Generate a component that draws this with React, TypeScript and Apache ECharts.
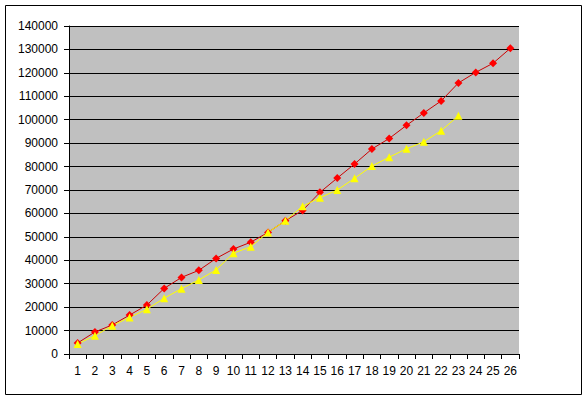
import React, { useEffect, useRef } from "react";
import * as echarts from "echarts";

const categories = ["1","2","3","4","5","6","7","8","9","10","11","12","13","14","15","16","17","18","19","20","21","22","23","24","25","26"];
const redSeries = [4700, 9400, 12400, 16600, 20900, 28000, 32700, 35700, 40800, 44800, 47700, 51900, 56900, 61300, 69000, 75100, 81100, 87500, 92000, 97600, 102900, 108000, 115700, 120200, 124100, 130500];
const yellowSeries = [4300, 7800, 12100, 15600, 19100, 23800, 27900, 31600, 35900, 43000, 45800, 51900, 56900, 63100, 66700, 70000, 75000, 80200, 84000, 87600, 90600, 95300, 101700];

export default function App() {
  const ref = useRef<HTMLDivElement>(null);
  useEffect(() => {
    if (!ref.current) return;
    const chart = echarts.init(ref.current, null, { renderer: "svg" });
    chart.setOption({
      animation: false,
      backgroundColor: "#ffffff",
      textStyle: { fontFamily: "Arial, 'Liberation Sans', sans-serif" },
      graphic: [
        {
          type: "rect",
          shape: { x: 5.5, y: 5.5, width: 576, height: 389 },
          style: { fill: "none", stroke: "#000", lineWidth: 1 },
          silent: true,
        },
      ],
      grid: {
        left: 69,
        top: 26,
        right: 67,
        bottom: 46,
        show: true,
        backgroundColor: "#c0c0c0",
        borderWidth: 0,
      },
      xAxis: {
        type: "category",
        data: categories,
        boundaryGap: true,
        axisLine: { lineStyle: { color: "#000", width: 1 } },
        axisTick: { show: true, length: 5, alignWithLabel: false, lineStyle: { color: "#000" } },
        axisLabel: { color: "#000", fontSize: 12, margin: 11, interval: 0 },
        splitLine: { show: false },
      },
      yAxis: {
        type: "value",
        min: 0,
        max: 140000,
        interval: 10000,
        axisLine: { show: true, lineStyle: { color: "#000", width: 1 } },
        axisTick: { show: true, length: 5, lineStyle: { color: "#000" } },
        axisLabel: { color: "#000", fontSize: 12, margin: 11, formatter: (v: number) => String(v) },
        splitLine: { show: true, lineStyle: { color: "#000", width: 1 } },
      },
      series: [
        {
          type: "line",
          data: redSeries,
          symbol: "diamond",
          symbolSize: 8,
          itemStyle: { color: "#ff0000" },
          lineStyle: { color: "#cc0000", width: 1 },
        },
        {
          type: "line",
          data: yellowSeries,
          symbol: "triangle",
          symbolSize: 8,
          itemStyle: { color: "#ffff00" },
          lineStyle: { color: "#ffff00", width: 1 },
        },
      ],
    });
    return () => chart.dispose();
  }, []);
  return (
    <div
      ref={ref}
      style={{ position: "absolute", left: 0, top: 0, width: 586, height: 400 }}
    />
  );
}
